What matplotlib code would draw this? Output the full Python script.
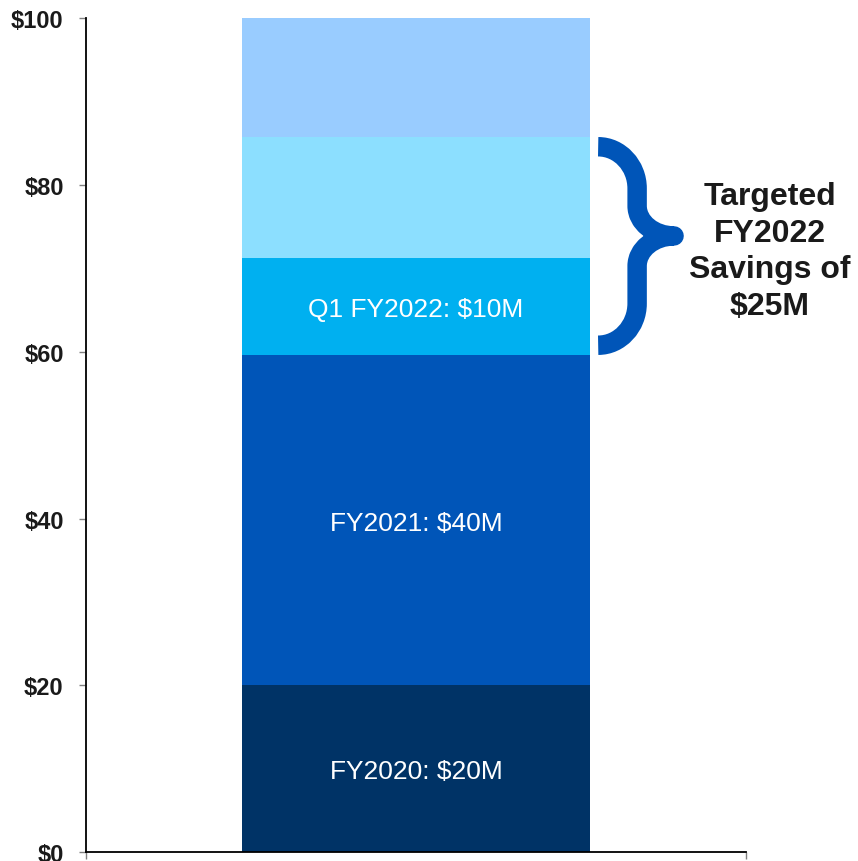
import matplotlib
matplotlib.use("Agg")
import matplotlib.pyplot as plt
import numpy as np
from matplotlib.path import Path
from matplotlib.patches import PathPatch

plt.rcParams["font.family"] = ["Liberation Sans", "DejaVu Sans"]

# stacked segments, bottom to top
segments = ["FY2020", "FY2021", "Q1 FY2022", "Q2-Q4 FY2022", "Remaining"]
values = [20.0, 39.6, 11.7, 14.5, 14.2]
labels = ["FY2020: $20M", "FY2021: $40M", "Q1 FY2022: $10M", "", ""]
colors = ["#003366", "#0055B8", "#00B0F0", "#8CDFFF", "#99CCFF"]
yticks = [0, 20, 40, 60, 80, 100]
ytick_labels = ["$0", "$20", "$40", "$60", "$80", "$100"]
callout = "Targeted\nFY2022\nSavings of\n$25M"
BRACE = "#0055B8"
INK = "#1a1a1a"

fig = plt.figure(figsize=(8.58, 8.62), dpi=100)
ax = fig.add_axes([0.1002, 0.0101, 0.7693, 0.9675])
ax.set_xlim(-0.5, 0.5)
ax.set_ylim(0, 100)

bottoms = np.concatenate([[0], np.cumsum(values)[:-1]])
for v, b, c, lab in zip(values, bottoms, colors, labels):
    ax.bar(0, v, bottom=b, width=0.526, color=c, linewidth=0, zorder=2)
    if lab:
        ax.text(0, b + v / 2, lab, ha="center", va="center_baseline",
                color="white", fontsize=19, zorder=3)

# spines / ticks
for s in ["top", "right"]:
    ax.spines[s].set_visible(False)
ax.spines["left"].set_linewidth(1.3)
ax.spines["bottom"].set_linewidth(1.3)
ax.set_yticks(yticks)
ax.set_yticklabels(ytick_labels, fontsize=17, fontweight="bold", color=INK)
ax.set_xticks([-0.5, 0.5])
ax.set_xticklabels(["", ""])
ax.tick_params(axis="y", direction="out", length=5, width=1, color="#808080", pad=11)
ax.tick_params(axis="x", direction="out", length=5, width=1, color="#808080")

# curly brace spanning the FY2022 segments (Q1 + Q2-Q4)
top = bottoms[3] + values[3]
bot = bottoms[2]
h = 1.2                          # half of the stroke, data units
ya, yb = top - h, bot + h
mid = bot + (top - bot) * 0.546  # tip sits a little above the middle
x0, xm, xt = 0.276, 0.335, 0.391
dy1, dy2 = 5.0, 3.6              # end-hook and tip-curve radii
k = 0.55
dx, dtx = xm - x0, xt - xm
verts = [
    (x0, ya),
    (x0 + k * dx, ya), (xm, ya - (1 - k) * dy1), (xm, ya - dy1),
    (xm, mid + dy2),
    (xm, mid + (1 - k) * dy2), (xt - k * dtx, mid), (xt, mid),
    (xt - k * dtx, mid), (xm, mid - (1 - k) * dy2), (xm, mid - dy2),
    (xm, yb + dy1),
    (xm, yb + (1 - k) * dy1), (x0 + k * dx, yb), (x0, yb),
]
codes = [Path.MOVETO,
         Path.CURVE4, Path.CURVE4, Path.CURVE4,
         Path.LINETO,
         Path.CURVE4, Path.CURVE4, Path.CURVE4,
         Path.CURVE4, Path.CURVE4, Path.CURVE4,
         Path.LINETO,
         Path.CURVE4, Path.CURVE4, Path.CURVE4]
brace = PathPatch(Path(verts, codes), fill=False, edgecolor=BRACE, lw=14,
                  capstyle="butt", joinstyle="round", clip_on=False, zorder=4)
ax.add_patch(brace)

ax.text(0.536, mid - 1.8, callout, ha="center", va="center", fontsize=23,
        fontweight="bold", color=INK, linespacing=1.29, clip_on=False)

fig.savefig("out.png", dpi=100, facecolor="white")
